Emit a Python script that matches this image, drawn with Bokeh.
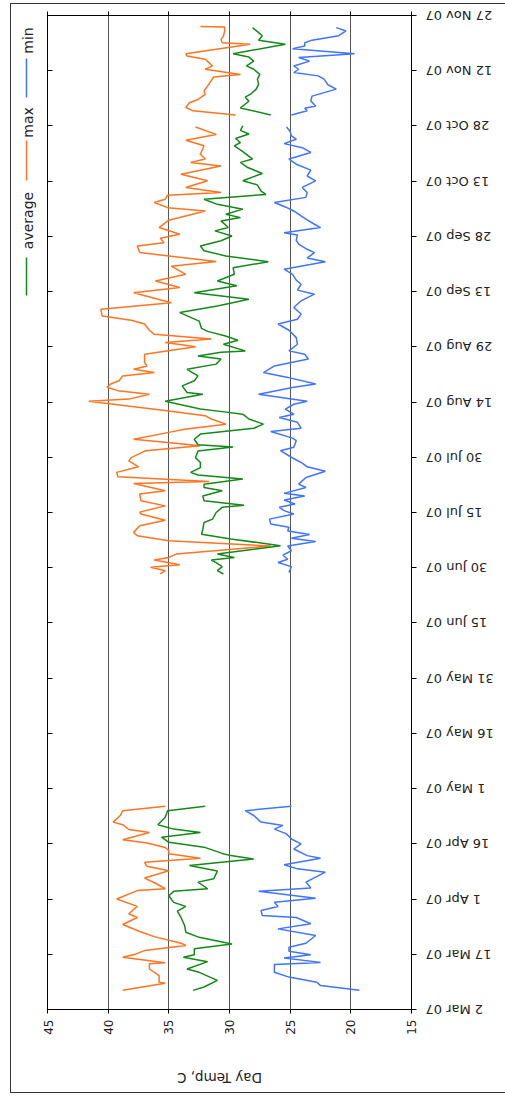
import math
import numpy as np
from bokeh.plotting import figure
from bokeh.layouts import row, column
from bokeh.models import Range1d, LinearAxis, FixedTicker, Plot
from bokeh.core.properties import value
from bokeh.embed import file_html
from bokeh.resources import INLINE

NAN = float("nan")

# y axis: days since 2 Mar 2007
date_tick_days = [0, 15, 30, 45, 60, 75, 90, 105, 120, 135, 150, 165, 180, 195, 210, 225, 240, 255, 270]
date_tick_labels = ["2 Mar 07", "17 Mar 07", "1 Apr 07", "16 Apr 07", "1 May 07", "16 May 07",
                    "31 May 07", "15 Jun 07", "30 Jun 07", "15 Jul 07", "30 Jul 07", "14 Aug 07",
                    "29 Aug 07", "13 Sep 07", "28 Sep 07", "13 Oct 07", "28 Oct 07", "12 Nov 07",
                    "27 Nov 07"]
temp_ticks = [15, 20, 25, 30, 35, 40, 45]
series_names = ["min", "max", "average"]

max_day = [5.2, 7.1, 7.4, 9.2, 11.0, 12.4, 12.7, 14.2, 15.1, 16.0,
           17.4, 18.0, 19.8, 21.2, 23.1, 25.0, 26.0, 28.0, 30.0, 32.3,
           32.8, 34.3, 35.7, 37.7, 38.9, 40.0, 41.1, 42.3, 43.2, 44.0,
           45.2, 46.1, 48.1, 48.9, 50.2, 50.9, 52.7, 54.0, 55.2,
           NAN,
           118.3, 119.2, 120.1, 120.8, 122.1, 122.8, 123.7, 125.9, 127.3, 128.7,
           129.6, 131.4, 132.9, 134.6, 135.1, 136.8, 138.2, 140.0, 140.9, 142.9,
           143.4, 144.7, 145.9, 147.4, 149.0, 149.9, 151.8, 153.1, 154.0, 154.9,
           156.9, 157.6, 159.0, 160.4, 161.3, 162.6, 165.2, 165.8, 167.1, 168.1,
           169.0, 169.9, 170.8, 172.1, 173.0, 173.9, 174.8, 175.7, 178.0, 180.0,
           181.2, 182.1, 183.4, 184.5, 186.2, 187.2, 188.4, 190.2, 192.0, 194.7,
           196.1, 197.9, 199.7, 201.9, 203.2, 204.7, 205.6, 207.4, 208.3, 209.5,
           210.6, 212.4, 214.4, 216.9, 217.8, 219.2, 220.1, 221.2, 221.9, 223.3,
           225.1, 226.9, 229.1, 230.1, 231.0, 232.3, 234.6, 236.1, 237.7, 239.7,
           NAN,
           243.0, 244.1, 245.0, 246.3, 247.2, 248.6, 249.5, 250.9, 253.3, 254.0,
           255.4, 256.3, 257.2, 258.1, 259.0, 259.6, 262.2, 262.6, 263.5, 264.4,
           265.8, 266.9, 267.0]
max_temp = [38.8, 35.3, 35.8, 35.8, 36.6, 36.6, 35.3, 38.8, 37.7, 37.0,
            33.6, 34.0, 36.2, 37.4, 38.8, 37.6, 38.3, 37.6, 39.3, 37.6,
            35.3, 36.1, 37.0, 35.0, 36.8, 37.0, 32.4, 35.0, 35.0, 35.3,
            36.8, 38.8, 36.6, 38.3, 38.8, 39.6, 39.0, 38.8, 35.3,
            NAN,
            35.7, 35.3, 36.5, 34.1, 36.2, 35.0, 34.4, 26.6, 35.0, 37.6,
            37.9, 37.4, 35.3, 37.3, 37.4, 35.3, 37.3, 37.4, 35.3, 37.9,
            31.7, 39.2, 39.3, 37.5, 38.3, 38.1, 36.9, 32.4, 35.1, 37.9,
            34.8, 33.7, 30.3, 31.5, 32.0, 35.0, 41.6, 38.3, 36.6, 39.2,
            40.1, 39.8, 39.1, 38.8, 36.2, 37.9, 36.8, 37.0, 37.0, 32.8,
            35.3, 31.5, 36.2, 36.6, 37.0, 38.1, 40.5, 40.6, 34.8, 37.9,
            34.1, 36.1, 33.6, 34.8, 31.1, 35.0, 37.4, 37.6, 35.4, 35.7,
            34.1, 35.8, 35.0, 32.0, 35.1, 36.2, 35.3, 35.1, 30.7, 33.6,
            31.8, 34.0, 30.7, 33.2, 32.0, 32.4, 32.1, 33.6, 31.1, 32.8,
            NAN,
            29.5, 33.0, 33.6, 33.3, 32.6, 32.0, 32.1, 31.8, 31.3, 29.1,
            32.0, 31.4, 31.7, 32.0, 33.5, 33.6, 28.3, 30.6, 30.7, 30.5,
            30.4, 30.4, 32.4]

avg_day = [5.2, 6.1, 7.9, 10.1, 11.0, 13.0, 14.2, 14.9, 16.5, 17.8,
           19.6, 21.0, 22.8, 25.0, 26.7, 28.0, 29.1, 30.9, 32.1, 32.8,
           34.6, 35.5, 37.6, 39.1, 40.9, 41.8, 42.4, 44.1, 45.4, 46.8,
           48.1, 49.0, 50.2, 52.2, 54.0, 55.2,
           NAN,
           118.3, 119.2, 120.3, 121.4, 122.1, 122.8, 123.7, 124.2, 126.0, 127.8,
           129.1, 130.4, 132.3, 133.2, 135.0, 136.4, 137.0, 138.2, 139.5, 140.9,
           141.8, 142.7, 144.1, 145.2, 145.9, 147.2, 148.6, 149.9, 151.7, 152.8,
           153.4, 154.9, 156.3, 157.9, 159.0, 160.4, 161.7, 162.4, 163.1, 165.2,
           167.1, 167.6, 169.4, 170.8, 172.1, 173.9, 175.3, 176.7, 177.5, 178.5,
           178.9, 180.7, 181.8, 183.0, 184.2, 185.0, 187.0, 189.3, 191.1, 192.9,
           194.7, 196.6, 197.9, 199.7, 201.5, 203.1, 204.7, 206.1, 207.4, 208.8,
           210.1, 211.5, 212.4, 214.2, 215.1, 216.0, 217.4, 218.7, 220.1, 221.4,
           222.3, 224.0, 225.1, 227.1, 228.7, 230.1, 231.0, 233.0, 234.6, 235.5,
           236.6, 237.8, 238.8, 240.0,
           NAN,
           243.0, 244.9, 246.7, 247.8, 248.8, 250.0, 251.3, 252.7, 254.0, 255.4,
           256.3, 257.6, 258.7, 259.6, 262.2, 263.3, 264.5, 265.6, 266.7]
avg_temp = [33.0, 32.1, 31.0, 32.5, 33.5, 31.8, 33.8, 32.9, 32.9, 29.8,
            32.5, 33.6, 33.7, 34.0, 34.3, 33.6, 34.6, 35.0, 34.6, 31.8,
            32.6, 31.3, 31.0, 33.3, 28.0, 29.9, 30.6, 32.1, 35.0, 35.6,
            32.4, 34.6, 35.9, 35.3, 35.1, 32.0,
            NAN,
            30.5, 31.0, 30.6, 31.1, 31.5, 29.6, 31.0, 29.9, 25.8, 29.9,
            32.3, 32.2, 32.1, 31.4, 31.1, 30.6, 28.8, 32.1, 32.2, 30.6,
            32.1, 32.1, 28.9, 32.6, 33.2, 32.4, 32.4, 32.8, 32.6, 29.7,
            32.6, 32.9, 32.4, 28.0, 27.2, 28.4, 28.9, 30.6, 32.4, 35.3,
            32.2, 33.5, 33.9, 32.9, 32.6, 33.5, 31.1, 30.7, 32.6, 30.7,
            28.7, 30.5, 29.3, 30.4, 31.8, 32.3, 32.5, 34.1, 31.0, 28.4,
            32.9, 29.4, 31.0, 29.6, 29.7, 26.8, 30.3, 32.1, 32.4, 30.7,
            29.8, 31.2, 30.1, 30.7, 29.1, 30.3, 28.9, 31.0, 32.1, 27.0,
            27.4, 27.7, 28.9, 27.3, 28.5, 29.1, 28.1, 28.9, 29.6, 29.1,
            29.5, 28.4, 29.1, 28.9,
            NAN,
            26.6, 29.1, 28.4, 28.7, 28.2, 27.8, 27.6, 27.7, 27.5, 28.0,
            28.6, 28.0, 28.4, 29.7, 25.4, 27.6, 27.3, 27.7, 28.1]

min_day = [5.2, 6.5, 7.4, 8.8, 10.1, 12.2, 12.8, 14.0, 14.9, 15.8,
           16.9, 18.0, 20.1, 21.9, 23.3, 25.0, 25.5, 26.9, 28.0, 29.1,
           30.2, 32.1, 33.0, 34.6, 37.3, 38.2, 39.3, 41.1, 41.8, 43.6,
           45.0, 46.3, 47.7, 49.0, 50.0, 50.9, 52.7, 54.0, 55.2,
           NAN,
           118.7, 120.3, 121.4, 122.3, 123.4, 124.6, 125.9, 127.1, 128.0, 129.0,
           130.0, 131.0, 131.9, 133.2, 134.6, 135.5, 136.4, 137.3, 138.4, 139.5,
           140.2, 141.8, 142.7, 144.5, 146.2, 147.4, 148.4, 149.8, 151.8, 152.7,
           154.5, 155.2, 157.0, 157.9, 159.5, 160.8, 161.7, 163.1, 164.4, 165.2,
           167.1, 169.0, 169.9, 171.7, 173.0, 174.8, 176.7, 178.0, 178.9, 180.7,
           182.5, 184.5, 186.2, 187.5, 188.9, 190.7, 192.5, 194.3, 195.4, 197.0,
           198.1, 199.7, 201.1, 203.1, 204.1, 205.6, 206.5, 207.9, 208.9, 210.4,
           211.0, 212.4, 213.3, 214.7, 215.6, 216.9, 218.0, 219.2, 220.6, 221.9,
           223.3, 225.1, 226.4, 228.0, 229.6, 231.0, 232.8, 234.1, 235.2, 236.4,
           237.3, 238.5, 239.7,
           NAN,
           243.0, 244.1, 244.8, 245.4, 246.8, 248.1, 250.0, 251.2, 252.7, 253.6,
           254.5, 255.4, 256.3, 257.6, 258.6, 259.6, 261.0, 261.7, 262.6, 263.3,
           264.5, 265.8, 266.7]
min_temp = [19.3, 22.5, 22.8, 25.1, 26.3, 26.3, 22.5, 25.5, 23.3, 25.1,
            25.1, 23.7, 22.9, 26.0, 23.3, 24.5, 27.3, 27.4, 26.0, 26.3,
            22.9, 27.6, 23.3, 23.7, 22.1, 24.4, 25.5, 22.5, 23.6, 24.7,
            24.1, 24.9, 25.3, 26.3, 25.6, 27.4, 28.0, 28.7, 24.9,
            NAN,
            25.1, 24.9, 26.0, 25.2, 25.6, 24.9, 25.2, 22.9, 24.9, 23.4,
            25.2, 25.1, 26.6, 26.7, 24.7, 25.5, 25.9, 24.6, 25.5, 23.8,
            25.5, 23.7, 24.3, 23.7, 22.1, 23.6, 24.0, 24.8, 25.8, 24.7,
            24.5, 24.8, 26.6, 24.1, 24.4, 25.9, 24.7, 25.4, 24.7, 23.6,
            27.6, 24.7, 22.9, 25.2, 27.2, 26.3, 23.5, 23.8, 25.1, 24.4,
            24.5, 25.1, 26.0, 24.4, 24.1, 24.7, 24.1, 23.0, 24.4, 24.1,
            24.5, 24.8, 25.5, 22.1, 23.6, 23.0, 23.6, 24.3, 24.5, 24.4,
            25.5, 22.5, 23.0, 23.7, 24.1, 24.7, 25.4, 26.3, 23.7, 23.6,
            24.0, 22.9, 23.6, 23.3, 24.5, 25.1, 23.3, 24.0, 25.5, 24.5,
            24.9, 25.0, 25.3,
            NAN,
            24.9, 23.6, 23.8, 22.9, 23.3, 23.2, 21.2, 21.9, 22.2, 22.7,
            24.7, 24.3, 24.7, 23.4, 24.3, 19.7, 24.8, 23.8, 23.8, 23.2,
            21.0, 20.4, 21.2]

COL_MAX = "#ff7420"
COL_AVG = "#138a18"
COL_MIN = "#3f74ff"
series_colors = [COL_MIN, COL_MAX, COL_AVG]
FONT = "DejaVu Sans"
TXT = "#222222"

FIG_H = 1046          # height of the three side-by-side panels
TOP, BOT = 11, 41     # main plot borders above / below its frame
DAY_MIN, DAY_MAX = 0, 270
PX_PER_DAY = (FIG_H - TOP - BOT) / (DAY_MAX - DAY_MIN)

# side panels use their whole canvas as frame when the layout lets them
FREE = "frame_align" in Plot.properties()


def bare(width, height, xr, yr, top=0, bottom=0):
    kw = dict(frame_align=False) if FREE else {}
    return figure(width=width, height=height, x_range=xr, y_range=yr,
                  x_axis_type=None, y_axis_type=None, output_backend="svg",
                  toolbar_location=None, min_border_left=0, min_border_right=0,
                  min_border_top=top, min_border_bottom=bottom,
                  outline_line_color=None, background_fill_color="white",
                  border_fill_color="white", **kw)


# ---------------- main plot ----------------
p = figure(width=376, height=FIG_H, x_range=Range1d(45, 15), y_range=Range1d(DAY_MIN, DAY_MAX),
           output_backend="svg", toolbar_location=None,
           min_border_left=4, min_border_right=8, min_border_top=TOP, min_border_bottom=BOT,
           background_fill_color="white", border_fill_color="white",
           outline_line_color="black", outline_line_width=1)

xa = p.xaxis[0]
xa.ticker = FixedTicker(ticks=temp_ticks)
xa.major_label_orientation = math.pi / 2
xa.major_tick_out = 4
xa.major_tick_in = 0
xa.minor_tick_line_color = None
xa.axis_line_color = "black"
xa.major_tick_line_color = "black"
xa.major_label_text_font = FONT
xa.major_label_text_font_size = "12px"
xa.major_label_text_color = TXT
xa.major_label_standoff = 6

# left edge: inward date ticks, no labels
la = p.yaxis[0]
la.ticker = FixedTicker(ticks=date_tick_days)
la.major_tick_in = 5
la.major_tick_out = 0
la.minor_tick_line_color = None
la.major_label_overrides = {d: "" for d in date_tick_days}
la.major_label_text_font_size = "1px"
la.major_label_text_alpha = 0
la.major_label_standoff = 0
la.axis_line_color = "black"
la.major_tick_line_color = "black"

# right edge: outward date ticks (labels in the panel to the right)
ra = LinearAxis(ticker=FixedTicker(ticks=date_tick_days),
                major_tick_in=0, major_tick_out=5, minor_tick_line_color=None,
                major_label_overrides={d: "" for d in date_tick_days},
                major_label_text_font_size="1px", major_label_text_alpha=0,
                major_label_standoff=0, axis_line_color="black",
                major_tick_line_color="black")
p.add_layout(ra, "right")

# top edge: short outward temperature ticks
ta = LinearAxis(ticker=FixedTicker(ticks=temp_ticks),
                major_tick_in=0, major_tick_out=4, minor_tick_line_color=None,
                major_label_overrides={t: "" for t in temp_ticks},
                major_label_text_font_size="1px", major_label_text_alpha=0,
                major_label_standoff=0, axis_line_color="black",
                major_tick_line_color="black")
p.add_layout(ta, "above")

p.xgrid.ticker = FixedTicker(ticks=temp_ticks)
p.xgrid.grid_line_color = "#555555"
p.xgrid.grid_line_width = 1
p.ygrid.visible = False

p.line(np.array(max_temp), np.array(max_day), line_color=COL_MAX, line_width=1.5)
p.line(np.array(avg_temp), np.array(avg_day), line_color=COL_AVG, line_width=1.5)
p.line(np.array(min_temp), np.array(min_day), line_color=COL_MIN, line_width=1.5)

# ---------------- date labels (right panel, upside down) ----------------
if FREE:
    dates = bare(86, FIG_H, Range1d(0, 86),
                 Range1d(DAY_MIN - BOT / PX_PER_DAY, DAY_MAX + TOP / PX_PER_DAY))
    leg_yr = Range1d(1050, 4)
else:
    dates = bare(86, FIG_H, Range1d(0, 86), p.y_range, TOP, BOT)
    leg_yr = Range1d(1009, 15)
dates.text(x=[6] * len(date_tick_days), y=date_tick_days, text=date_tick_labels,
           angle=math.pi, text_align="right", text_baseline="middle",
           text_font=value(FONT), text_font_size="13px", text_color=TXT)

# ---------------- legend (left panel, turned) ----------------
# panel coordinates are page pixels
leg = bare(32, FIG_H, Range1d(11, 43), leg_yr, 0 if FREE else TOP, 0 if FREE else BOT)
leg_text_y = [40, 122, 220]
leg_line_y0 = [58, 140, 257]
leg_line_y1 = [97, 180, 295]
leg.segment(x0=[26] * 3, y0=leg_line_y0, x1=[26] * 3, y1=leg_line_y1,
            line_color=series_colors, line_width=1.5)
leg.text(x=[27] * 3, y=leg_text_y, text=series_names, angle=math.pi / 2,
         text_align="center", text_baseline="middle",
         text_font=value(FONT), text_font_size="14px", text_color=TXT)

# ---------------- axis title (bottom strip, upside down) ----------------
bottom = bare(494, 42, Range1d(11, 505), Range1d(1092, 1050))
bottom.text(x=[219], y=[1077], text=["Day Temp, C"], angle=math.pi,
            text_align="center", text_baseline="middle",
            text_font=value(FONT), text_font_size="13.5px", text_color=TXT)

layout = column(row(leg, p, dates), bottom,
                styles={"margin-left": "10px", "margin-top": "3px",
                        "border-left": "1px solid #333333",
                        "border-top": "1px solid #333333",
                        "border-bottom": "1px solid #333333"})

open("out.html", "w").write(file_html(layout, INLINE))
